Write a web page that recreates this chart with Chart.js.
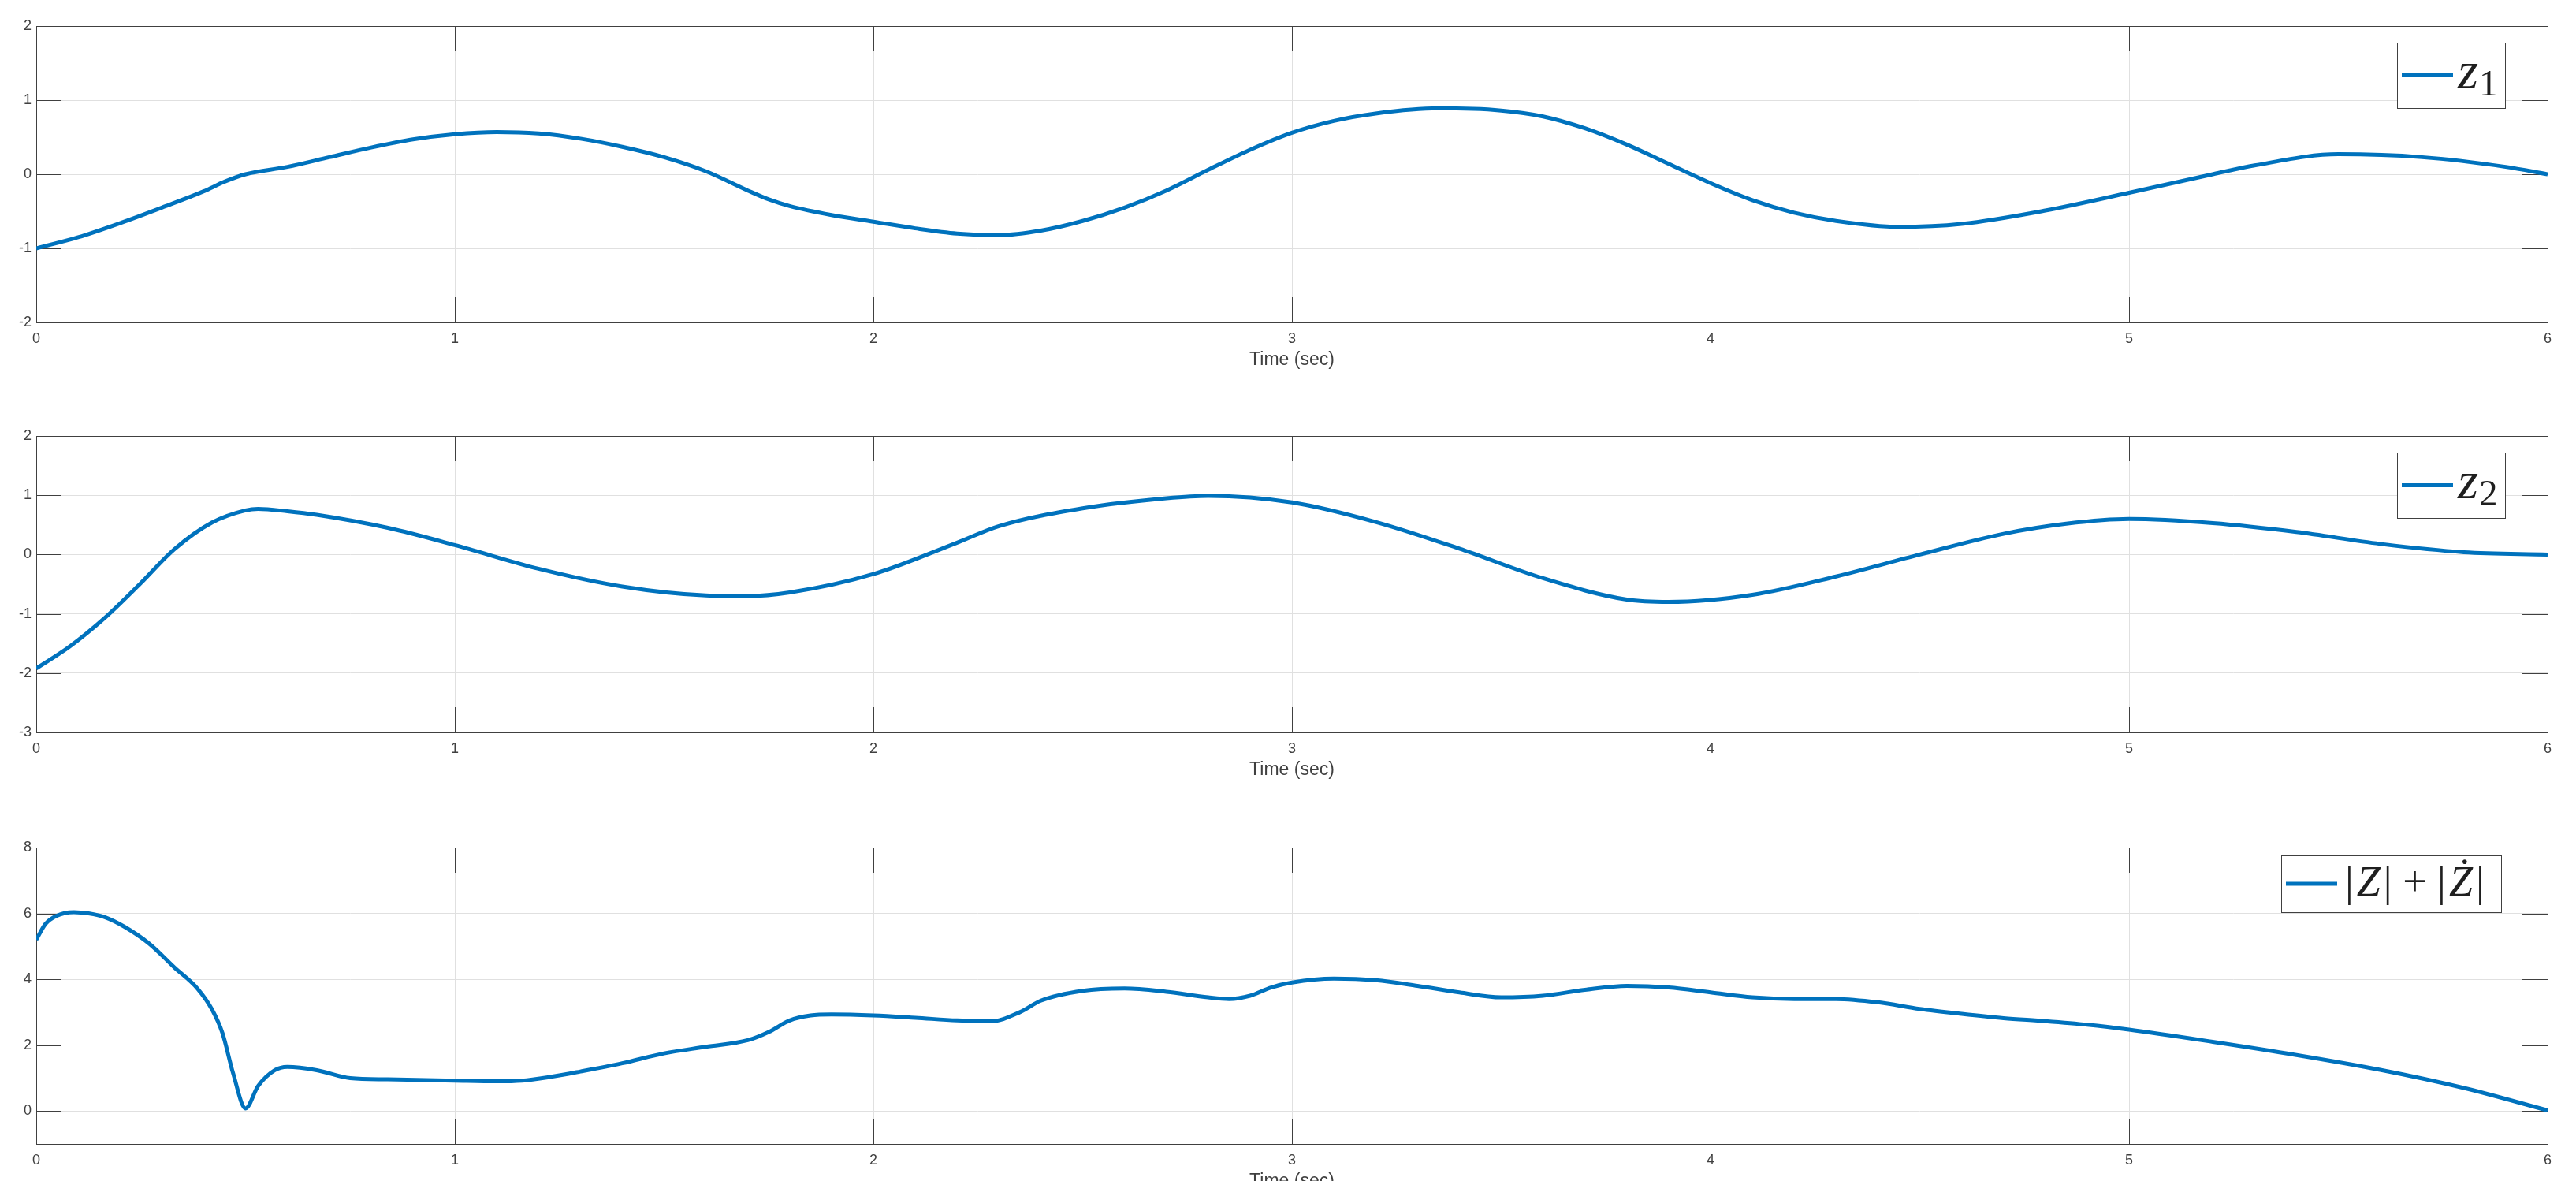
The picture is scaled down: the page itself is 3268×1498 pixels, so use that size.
<!DOCTYPE html>
<html lang="en">
<head>
<meta charset="UTF-8" />
<title>z1, z2 and |Z| + |Ż| over time</title>
<script src="https://cdn.jsdelivr.net/npm/chart.js"></script>
<style>
  html, body { margin: 0; padding: 0; background: #fff; }
  body { width: 3268px; height: 1498px; overflow: hidden; position: relative; }
  .panel { position: absolute; left: 0; width: 3268px; height: 520px; }
</style>
</head>
<body>
<div class="panel" style="top:0"><canvas id="c1"></canvas></div>
<div class="panel" style="top:520px"><canvas id="c2"></canvas></div>
<div class="panel" style="top:1042px"><canvas id="c3"></canvas></div>

<script>
// values
const xTicks = [0, 1, 2, 3, 4, 5, 6];

const times1 = [0, 0.1, 0.2, 0.3, 0.4, 0.45, 0.5, 0.6, 0.7, 0.8, 0.9, 1.0, 1.1, 1.2, 1.3, 1.4, 1.5, 1.6, 1.7, 1.75,
  1.8, 1.9, 2.0, 2.1, 2.2, 2.3, 2.4, 2.5, 2.6, 2.7, 2.8, 2.9, 3.0, 3.1, 3.2, 3.35, 3.5, 3.6, 3.7, 3.8,
  3.9, 4.0, 4.1, 4.2, 4.3, 4.45, 4.6, 4.8, 5.0, 5.2, 5.3, 5.5, 5.7, 5.9, 6.0];
const z1 = [-1, -0.85, -0.66, -0.45, -0.23, -0.1, 0.0, 0.1, 0.23, 0.36, 0.47, 0.54, 0.57, 0.55, 0.48, 0.37, 0.23, 0.04, -0.22, -0.34,
  -0.43, -0.55, -0.64, -0.73, -0.8, -0.82, -0.76, -0.63, -0.45, -0.22, 0.06, 0.33, 0.56, 0.72, 0.82, 0.89, 0.86, 0.78, 0.62, 0.4,
  0.14, -0.12, -0.35, -0.52, -0.63, -0.71, -0.67, -0.49, -0.25, 0.0, 0.12, 0.27, 0.23, 0.1, 0.0];
const yTicks1 = [-2, -1, 0, 1, 2];

const times2 = [0, 0.08, 0.165, 0.25, 0.33, 0.42, 0.5, 0.53, 0.6, 0.67, 0.84, 1.0, 1.2, 1.4, 1.6, 1.7, 1.8, 2.0, 2.2, 2.3,
  2.5, 2.7, 2.8, 3.0, 3.2, 3.4, 3.6, 3.8, 3.9, 4.1, 4.3, 4.5, 4.7, 4.85, 5.0, 5.2, 5.4, 5.6, 5.8, 6.0];
const z2 = [-1.92, -1.55, -1.06, -0.48, 0.09, 0.54, 0.745, 0.77, 0.73, 0.67, 0.45, 0.16, -0.24, -0.54, -0.69, -0.7, -0.64, -0.33, 0.2, 0.48,
  0.78, 0.95, 0.99, 0.88, 0.55, 0.1, -0.4, -0.76, -0.8, -0.68, -0.37, 0.0, 0.35, 0.52, 0.6, 0.53, 0.38, 0.18, 0.04, 0.0];
const yTicks2 = [-3, -2, -1, 0, 1, 2];

const times3 = [0, 0.022, 0.047, 0.09, 0.125, 0.165, 0.21, 0.27, 0.33, 0.385, 0.42, 0.445, 0.47, 0.5, 0.53, 0.57, 0.6, 0.67, 0.75, 0.84,
  1.0, 1.1, 1.16, 1.23, 1.3, 1.4, 1.5, 1.6, 1.7, 1.75, 1.8, 1.85, 1.9, 2.0, 2.1, 2.2, 2.28, 2.35, 2.4, 2.5,
  2.6, 2.7, 2.8, 2.85, 2.9, 2.95, 3.0, 3.1, 3.2, 3.3, 3.4, 3.5, 3.6, 3.7, 3.8, 3.9, 4.0, 4.1, 4.2, 4.3,
  4.4, 4.5, 4.6, 4.7, 4.8, 4.9, 5.0, 5.2, 5.4, 5.6, 5.8, 6.0];
const zNorm = [5.2, 5.68, 5.92, 6.04, 6.0, 5.88, 5.6, 5.08, 4.36, 3.72, 3.08, 2.36, 1.16, 0.08, 0.76, 1.24, 1.34, 1.24, 1.0, 0.96,
  0.92, 0.9, 0.92, 1.04, 1.2, 1.45, 1.75, 1.95, 2.15, 2.4, 2.75, 2.9, 2.93, 2.9, 2.83, 2.75, 2.72, 3.0, 3.35, 3.65,
  3.72, 3.62, 3.45, 3.4, 3.5, 3.75, 3.9, 4.02, 3.97, 3.8, 3.6, 3.45, 3.5, 3.68, 3.8, 3.75, 3.6, 3.45, 3.4, 3.4,
  3.3, 3.1, 2.95, 2.82, 2.73, 2.62, 2.47, 2.1, 1.7, 1.25, 0.7, 0.02];
const yTicks3 = [0, 2, 4, 6, 8];

const lineColor = '#0072bd';
const axisColor = '#404040';
const gridColor = '#e0e0e0';
const tickLen = 32;

// MATLAB-like box with inward ticks
const boxTicks = {
  id: 'boxTicks',
  beforeDatasetsDraw(chart) {
    const { ctx, chartArea: a, scales: { x, y } } = chart;
    ctx.save();
    ctx.strokeStyle = axisColor;
    ctx.lineWidth = 1;
    ctx.beginPath();
    x.ticks.forEach(t => {
      const px = Math.round(x.getPixelForValue(t.value)) + 0.5;
      ctx.moveTo(px, a.top); ctx.lineTo(px, a.top + tickLen);
      ctx.moveTo(px, a.bottom); ctx.lineTo(px, a.bottom - tickLen);
    });
    y.ticks.forEach(t => {
      const py = Math.round(y.getPixelForValue(t.value)) + 0.5;
      ctx.moveTo(a.left, py); ctx.lineTo(a.left + tickLen, py);
      ctx.moveTo(a.right, py); ctx.lineTo(a.right - tickLen, py);
    });
    ctx.stroke();
    ctx.strokeRect(Math.round(a.left) + 0.5, Math.round(a.top) + 0.5,
      Math.round(a.right - a.left), Math.round(a.bottom - a.top));
    ctx.restore();
  }
};

// legend box with math-style text
const mathLegend = {
  id: 'mathLegend',
  afterDraw(chart, args, opts) {
    if (!opts.runs) return;
    const { ctx, chartArea: a } = chart;
    const bx = Math.round(a.right - opts.right - opts.width);
    const by = Math.round(a.top + opts.top);
    ctx.save();
    ctx.fillStyle = '#fff';
    ctx.fillRect(bx, by, opts.width, opts.height);
    ctx.strokeStyle = axisColor;
    ctx.lineWidth = 1;
    ctx.strokeRect(bx + 0.5, by + 0.5, opts.width, opts.height);
    const ly = by + opts.height / 2;
    ctx.strokeStyle = lineColor;
    ctx.lineWidth = 5;
    ctx.beginPath();
    ctx.moveTo(bx + 6, ly);
    ctx.lineTo(bx + 71, ly);
    ctx.stroke();
    let tx = bx + opts.textX;
    ctx.fillStyle = '#1f1f1f';
    ctx.textBaseline = 'alphabetic';
    opts.runs.forEach(r => {
      ctx.font = r.font;
      ctx.fillText(r.t, tx, by + opts.baseline + (r.dy || 0));
      tx += ctx.measureText(r.t).width + (r.gap || 0);
    });
    ctx.restore();
  }
};

function makeChart(id, times, values, yTicks, yMin, yMax, legend) {
  const pts = times.map((t, i) => ({ x: t, y: values[i] }));
  return new Chart(document.getElementById(id), {
    type: 'line',
    data: {
      datasets: [{
        data: pts,
        borderColor: lineColor,
        borderWidth: 5,
        pointRadius: 0,
        fill: false,
        cubicInterpolationMode: 'monotone'
      }]
    },
    options: {
      responsive: true,
      maintainAspectRatio: false,
      animation: false,
      layout: { padding: { top: 33, right: 36, bottom: 0, left: 0 } },
      plugins: {
        legend: { display: false },
        tooltip: { enabled: false },
        mathLegend: legend
      },
      scales: {
        x: {
          type: 'linear',
          min: 0,
          max: 6,
          afterBuildTicks: s => { s.ticks = xTicks.map(v => ({ value: v })); },
          afterFit: s => { s.height = 111; },
          grid: { color: gridColor, drawTicks: false },
          border: { display: false },
          ticks: {
            padding: 10,
            color: axisColor,
            font: { family: '"Liberation Sans", Arial, sans-serif', size: 18 },
            maxRotation: 0
          },
          title: {
            display: true,
            text: 'Time (sec)',
            color: axisColor,
            font: { family: '"Liberation Sans", Arial, sans-serif', size: 23 },
            padding: { top: 0, bottom: 50 }
          }
        },
        y: {
          min: yMin,
          max: yMax,
          afterBuildTicks: s => { s.ticks = yTicks.map(v => ({ value: v })); },
          afterFit: s => { s.width = 46; },
          grid: { color: gridColor, drawTicks: false },
          border: { display: false },
          ticks: {
            padding: 6,
            color: axisColor,
            font: { family: '"Liberation Sans", Arial, sans-serif', size: 18 }
          }
        }
      }
    },
    plugins: [boxTicks, mathLegend]
  });
}

const serifIt = 'italic 67px "Liberation Serif", "DejaVu Serif", serif';
const serifSub = '47px "Liberation Serif", "DejaVu Serif", serif';
const serifIt3 = 'italic 54px "Liberation Serif", "DejaVu Serif", serif';
const serif3 = '54px "Liberation Serif", "DejaVu Serif", serif';

makeChart('c1', times1, z1, yTicks1, -2, 2, {
  right: 54, top: 21, width: 137, height: 83, textX: 77, baseline: 58,
  runs: [{ t: 'z', font: serifIt, gap: 1 }, { t: '1', font: serifSub, dy: 9 }]
});
makeChart('c2', times2, z2, yTicks2, -3, 2, {
  right: 54, top: 21, width: 137, height: 83, textX: 77, baseline: 58,
  runs: [{ t: 'z', font: serifIt, gap: 1 }, { t: '2', font: serifSub, dy: 9 }]
});
makeChart('c3', times3, zNorm, yTicks3, -1, 8, {
  right: 59, top: 10, width: 279, height: 72, textX: 81, baseline: 51,
  runs: [
    { t: '|', font: serif3, gap: 4 },
    { t: 'Z', font: serifIt3, gap: 4 },
    { t: '| + |', font: serif3, gap: 4 },
    { t: 'Ż', font: serifIt3, gap: 4 },
    { t: '|', font: serif3 }
  ]
});
</script>
</body>
</html>
